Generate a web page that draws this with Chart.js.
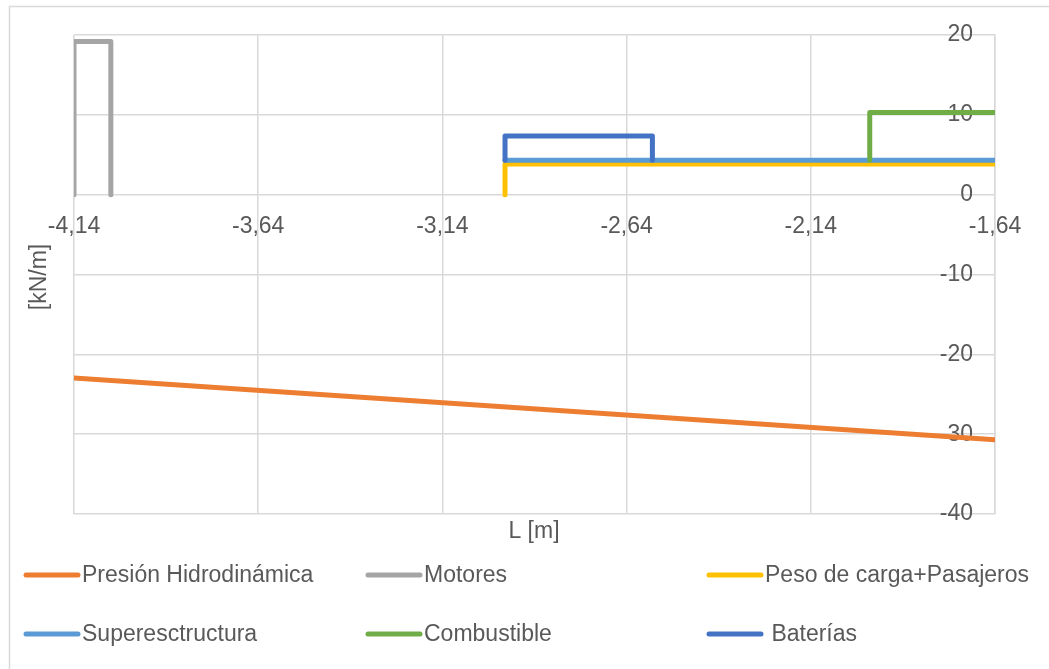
<!DOCTYPE html>
<html>
<head>
<meta charset="utf-8">
<script src="https://cdn.jsdelivr.net/npm/chart.js@4"></script>
<style>
  body { margin: 0; background: #fff; }
  canvas { display: block; }
</style>
</head>
<body>
<canvas id="grafico" width="1049" height="669"></canvas>
<script>
// tick values of the L axis
const xTicks = [-4.14, -3.64, -3.14, -2.64, -2.14, -1.64];

// series (x in m, y in kN/m)
const seriesNames = ["Presión Hidrodinámica", "Motores", "Peso de carga+Pasajeros",
                     "Superesctructura", "Combustible", " Baterías"];
const seriesColors = ["#ED7D31", "#A5A5A5", "#FFC000", "#5B9BD5", "#70AD47", "#4472C4"];

const presionX = [-4.14, -1.64];
const presionY = [-22.95, -30.7];

const motoresX = [-4.14, -4.14, -4.04, -4.04];
const motoresY = [0, 19.2, 19.2, 0];

const pesoX = [-2.97, -2.97, -1.64];
const pesoY = [0, 3.85, 3.85];

const superX = [-2.97, -1.64];
const superY = [4.3, 4.3];

const combX = [-1.98, -1.98, -1.64];
const combY = [4.3, 10.3, 10.3];

const bateriasX = [-2.97, -2.97, -2.57, -2.57];
const bateriasY = [4.3, 7.35, 7.35, 4.3];

const xs = [presionX, motoresX, pesoX, superX, combX, bateriasX];
const ys = [presionY, motoresY, pesoY, superY, combY, bateriasY];

const FONT = '"Liberation Sans", Arial, sans-serif';
const FSIZE = 23;
const TXT = "#595959";
const GRID = "#D9D9D9";

function puntos(x, y) {
    return x.map((v, i) => ({ x: v, y: y[i] }));
}

const datasets = seriesNames.map((name, i) => ({
    label: name,
    data: puntos(xs[i], ys[i]),
    borderColor: seriesColors[i],
    backgroundColor: seriesColors[i],
    borderWidth: 5,
    pointRadius: 0,
    tension: 0,
    fill: false,
    borderCapStyle: "round",
    borderJoinStyle: "round",
    order: seriesNames.length - i
}));

// marco, títulos de ejes y leyenda
const extras = {
    id: "extras",
    beforeDraw(chart) {
        const ctx = chart.ctx;
        ctx.save();
        ctx.fillStyle = "#fff";
        ctx.fillRect(0, 0, chart.width, chart.height);
        ctx.strokeStyle = GRID;
        ctx.lineWidth = 1.5;
        ctx.strokeRect(9.5, 6.5, 1200, 800);
        ctx.restore();
    },
    afterDraw(chart) {
        const ctx = chart.ctx;
        ctx.save();
        ctx.font = FSIZE + "px " + FONT;
        ctx.fillStyle = TXT;
        ctx.textAlign = "center";
        ctx.textBaseline = "middle";
        ctx.fillText("L [m]", 534, 532);

        ctx.save();
        ctx.translate(40, 277);
        ctx.rotate(-Math.PI / 2);
        ctx.fillText("[kN/m]", 0, 0);
        ctx.restore();

        // leyenda 3 columnas x 2 filas
        const colX = [24, 366, 707];
        const rowY = [575, 634];
        ctx.textAlign = "left";
        ctx.lineCap = "round";
        ctx.lineWidth = 5;
        chart.data.datasets.forEach((ds, i) => {
            const x = colX[i % 3];
            const y = rowY[Math.floor(i / 3)];
            ctx.strokeStyle = ds.borderColor;
            ctx.beginPath();
            ctx.moveTo(x + 2, y);
            ctx.lineTo(x + 54, y);
            ctx.stroke();
            ctx.fillText(ds.label, x + 58, y + 1);
        });
        ctx.restore();
    }
};

new Chart(document.getElementById("grafico"), {
    type: "line",
    data: { datasets: datasets },
    plugins: [extras],
    options: {
        responsive: false,
        animation: false,
        layout: { padding: { left: 74, right: 54, top: 35, bottom: 155 } },
        plugins: {
            legend: { display: false },
            tooltip: { enabled: false }
        },
        scales: {
            x: {
                type: "linear",
                position: { y: 0 },
                min: -4.14,
                max: -1.64,
                afterBuildTicks: axis => { axis.ticks = xTicks.map(v => ({ value: v })); },
                afterFit: axis => { axis.height = 0; },
                grid: { color: GRID, lineWidth: 1.5, drawTicks: false },
                border: { display: false },
                ticks: {
                    padding: 18,
                    color: TXT,
                    font: { family: FONT, size: FSIZE },
                    maxRotation: 0,
                    autoSkip: false,
                    callback: v => v.toFixed(2).replace(".", ",")
                }
            },
            y: {
                type: "linear",
                position: "right",
                min: -40,
                max: 20,
                afterFit: axis => { axis.width = 0; },
                grid: { color: GRID, lineWidth: 1.5, drawTicks: false },
                border: { color: GRID, width: 1.5 },
                ticks: {
                    stepSize: 10,
                    mirror: true,
                    padding: -22,
                    color: TXT,
                    font: { family: FONT, size: FSIZE },
                    callback: v => String(v)
                }
            }
        }
    }
});
</script>
</body>
</html>
